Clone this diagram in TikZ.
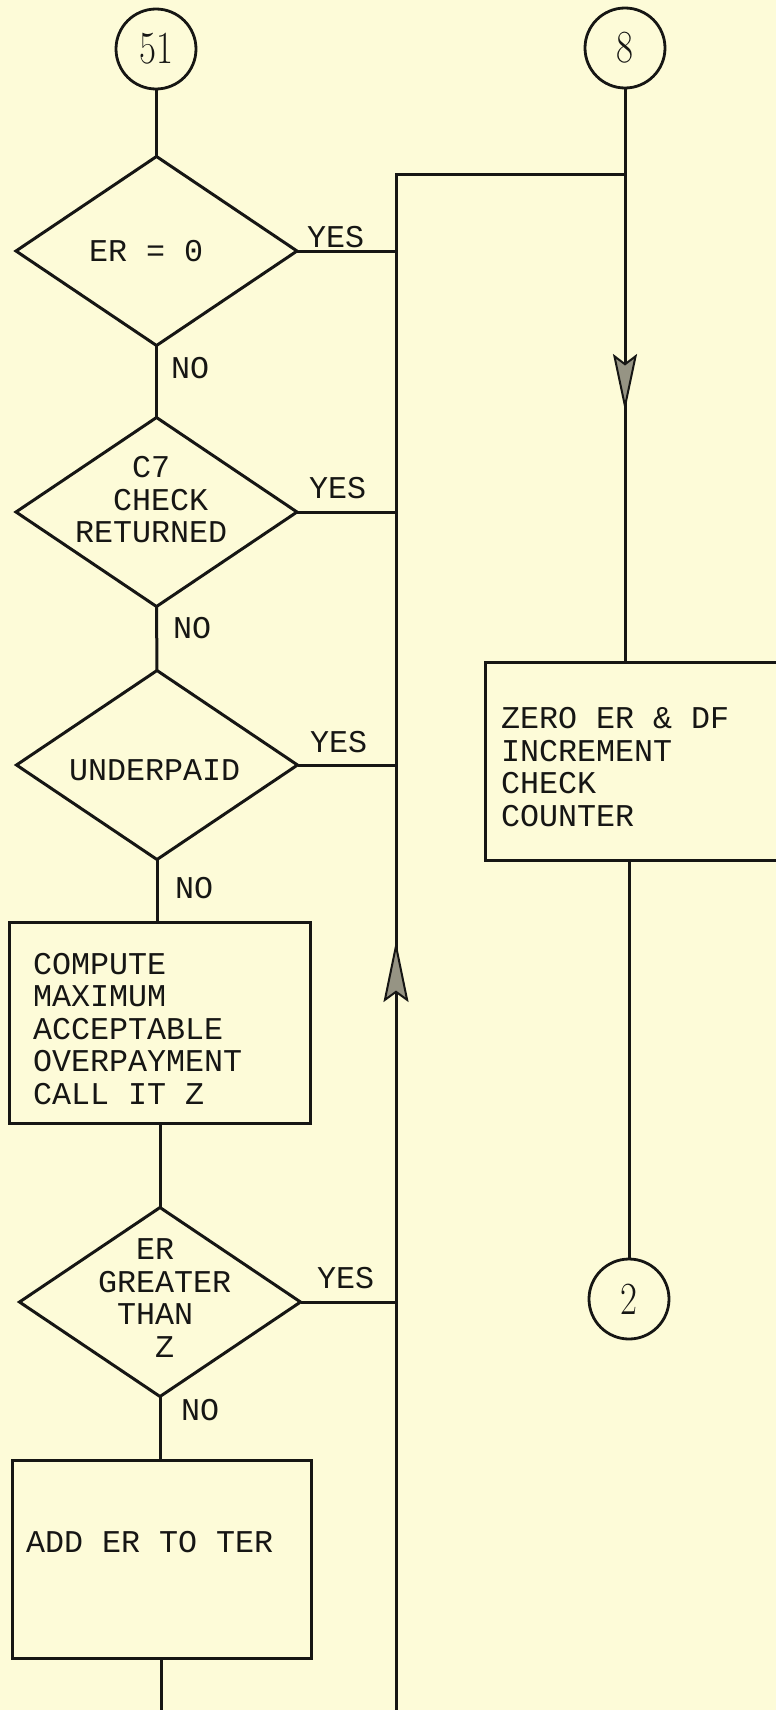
\documentclass[tikz,border=0pt]{standalone}
\usepackage{fontspec}
\usepackage{graphicx}
\newfontfamily\twf{Liberation Mono}
\usetikzlibrary{shapes.geometric,arrows.meta,decorations.markings}
\definecolor{bgc}{RGB}{253,251,216}
\definecolor{inkc}{RGB}{22,22,20}
\definecolor{tipc}{RGB}{150,148,132}
\newcommand{\cnum}[1]{\scalebox{0.8}[1]{#1}}
\begin{document}
\begin{tikzpicture}[x=1pt,y=-1pt,
  ln/.style={line width=3pt, draw=inkc},
  dia/.style={diamond, draw=inkc, line width=3pt, minimum width=281pt, minimum height=189pt, inner sep=0pt, outer sep=0pt},
  boxs/.style={rectangle, draw=inkc, line width=3pt, inner sep=0pt, outer sep=0pt},
  conn/.style={circle, draw=inkc, line width=2.8pt, minimum size=80pt, inner sep=0pt, outer sep=0pt, text=inkc, font=\fontsize{46}{46}\selectfont},
  tw/.style={font=\twf\fontsize{31.7}{32.5}\selectfont, inner sep=0pt, outer sep=0pt, align=left, text=inkc, anchor=west},
  downarrow/.style={postaction={decorate}, decoration={markings, mark=at position 323pt with {\arrow{Stealth[length=57pt,width=24pt,inset=9pt,fill=tipc,line width=2pt]}}}},
  uparrow/.style={postaction={decorate}, decoration={markings, mark=at position 779pt with {\arrow{Stealth[length=61pt,width=25pt,inset=9pt,fill=tipc,line width=2pt]}}}}
]
\useasboundingbox (0,0) rectangle (776,1710);
\fill[bgc] (0,0) rectangle (776,1710);
\clip (0,0) rectangle (776,1710);

% connectors (circles)
\node[conn] (c51) at (156,49) {\cnum{51}};
\node[conn] (c8) at (625,48) {\cnum{8}};
\node[conn] (c2) at (629,1299) {\cnum{2}};

% decisions and processes
\node[dia] (d1) at (156.5,251) {};
\node[tw] (t1) at (89,251) {ER = 0};
\node[dia] (d2) at (156.5,512) {};
\node[tw] (t2) at (75,500) {\phantom{XXX}C7\\\phantom{XX}CHECK\\RETURNED};
\node[dia] (d3) at (157,765) {};
\node[tw] (t3) at (69,770) {UNDERPAID};
\node[boxs, minimum width=301pt, minimum height=201pt] (b1) at (159.5,1022.5) {};
\node[tw] (t4) at (33,1029) {COMPUTE\\MAXIMUM\\ACCEPTABLE\\OVERPAYMENT\\CALL IT Z};
\node[dia] (d4) at (160,1302) {};
\node[tw] (t5) at (98,1298) {\phantom{XX}ER\\GREATER\\\phantom{X}THAN\\\phantom{XXX}Z};
\node[boxs, minimum width=299pt, minimum height=198pt] (b2) at (161.5,1559) {};
\node[tw] (t6) at (26,1542) {ADD ER TO TER};
\node[boxs, minimum width=320pt, minimum height=198pt] (zb) at (645,761) {};
\node[tw] (t7) at (501,767) {ZERO ER \& DF\\INCREMENT\\CHECK\\COUNTER};

% labels
\node[tw] (y1) at (307,237) {YES};
\node[tw] (y2) at (309,488) {YES};
\node[tw] (y3) at (310,742) {YES};
\node[tw] (y4) at (317,1278) {YES};
\node[tw] (n1) at (171,368) {NO};
\node[tw] (n2) at (173,628) {NO};
\node[tw] (n3) at (175,888) {NO};
\node[tw] (n4) at (181,1410) {NO};

% coordinates
\coordinate (rbot) at (396,1720);
\coordinate (rtop) at (396,174);
\coordinate (j8) at (625,174);
\coordinate (bend) at (161,1720);

% main flow
\draw[ln] (c51.south) -- (c51.south |- d1.north);
\draw[ln] (d1.south) -- (d2.north);
\draw[ln] (d2.south) -- (d3.north);
\draw[ln] (d3.south) -- (d3.south |- b1.north);
\draw[ln] (d4.north |- b1.south) -- (d4.north);
\draw[ln] (d4.south) -- (d4.south |- b2.north);
\draw[ln] (b2.south) -- (b2.south |- bend);

% yes branches
\draw[ln] (d1.east) -- (d1.east -| rtop);
\draw[ln] (d2.east) -- (d2.east -| rtop);
\draw[ln] (d3.east) -- (d3.east -| rtop);
\draw[ln] (d4.east) -- (d4.east -| rtop);

% return line
\draw[ln, uparrow] (rbot) -- (rtop) -- (j8);

% right column
\draw[ln, downarrow] (c8.south) -- (c8.south |- zb.north);
\draw[ln] (c2.north |- zb.south) -- (c2.north);
\end{tikzpicture}
\end{document}
